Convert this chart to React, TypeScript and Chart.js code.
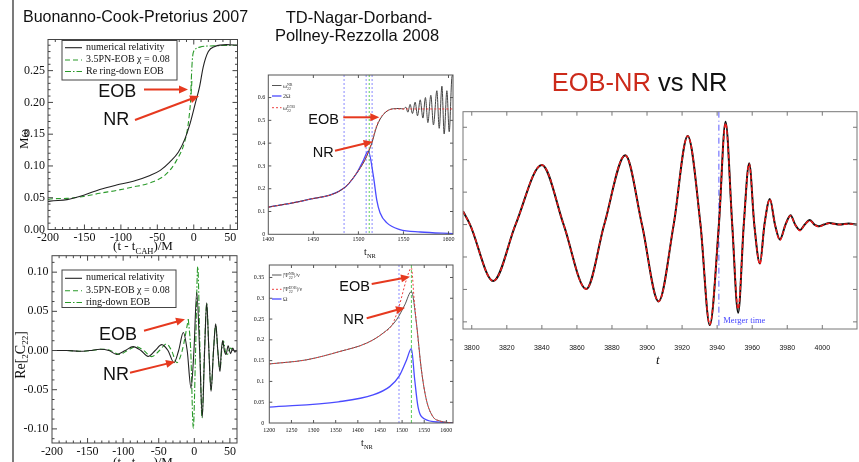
import React, { useEffect, useRef } from 'react';
import { Chart, registerables } from 'chart.js';

Chart.register(...registerables);

// ---------------- Buonanno-Cook-Pretorius 2007 : M omega ----------------
const bcpFreqNrT = [-200, -197, -174, -151, -129, -106, -83, -60, -46, -33, -21, -12, -5, 2, 8, 13, 20, 29, 45, 60];
const bcpFreqNrW = [0.044, 0.0447, 0.047, 0.054, 0.063, 0.07, 0.076, 0.085, 0.093, 0.106, 0.122, 0.143, 0.167, 0.198, 0.225, 0.256, 0.28, 0.288, 0.291, 0.29];
const bcpFreqEobT = [-200, -197, -174, -151, -129, -106, -83, -60, -38, -24, -12, -7.5, -4.2, -2.5];
const bcpFreqEobW = [0.047, 0.048, 0.049, 0.052, 0.057, 0.0615, 0.067, 0.0735, 0.087, 0.108, 0.14, 0.167, 0.204, 0.235];
const bcpFreqRdT = [-4.5, -3, -1.6, 1.7, 8.5, 27, 60];
const bcpFreqRdW = [0.2, 0.246, 0.272, 0.283, 0.287, 0.289, 0.29];

// ---------------- Buonanno-Cook-Pretorius 2007 : Re[2C22] ----------------
const bcpWaveNrT = [-200, -180, -161, -147, -132, -120, -109, -97, -86, -75, -65, -55, -45.8, -37, -28.5, -22, -15.5, -10, -4.6, -0.5, 3.4, 7.5, 11.2, 14.5, 17.4, 20.5, 23.5, 27, 30.1, 33, 36.1, 38, 39.9, 42.2, 44.6, 47.5, 51, 54, 57, 60];
const bcpWaveNrV = [0, 0, -0.001, 0, 0.0017, 0, -0.005, 0, 0.005, 0, -0.0075, 0, 0.0075, 0, -0.0156, 0, 0.023, 0, -0.048, 0, 0.074, 0, -0.085, 0, 0.061, 0, -0.052, 0, 0.034, 0, -0.027, 0, 0.0126, 0, -0.005, 0.006, -0.004, 0.003, -0.002, 0];
const bcpWaveEobT = [-200, -180, -160, -145, -130, -118, -105, -94, -82, -71, -60, -49, -39, -32, -24.5, -17, -8.4];
const bcpWaveEobV = [0, 0, -0.001, 0, 0.0017, 0, -0.005, 0, 0.005, 0, -0.0078, 0, 0.0085, 0, -0.0155, 0, 0.04];
const bcpWaveRdT = [-8.4, -5, -1.4, 1.8, 4.8, 8, 10.8, 14.3, 17.4, 20.5, 23.5, 27, 30.1, 33, 36.1, 38.5, 41, 43.5, 46, 48.5, 51, 55, 60];
const bcpWaveRdV = [0.04, 0, -0.099, 0, 0.107, 0, -0.086, 0, 0.06, 0, -0.05, 0, 0.033, 0, -0.025, 0, 0.012, 0, -0.006, 0, 0.003, 0, 0];

// ---------------- Damour-Nagar-... 2008 : frequency ----------------
const ndFreqNrT = [1400, 1442.7, 1484.1, 1498.2, 1507.4, 1514.9, 1520.4, 1527.8, 1538.9, 1546, 1550, 1552.6, 1554.9, 1557.4, 1560, 1563, 1565.6, 1568.6, 1571.6, 1574.4, 1577.1, 1580.4, 1583.3, 1587.1, 1589.7, 1592.7, 1595.2, 1598.2, 1600.8, 1603.8, 1605];
const ndFreqNrW = [0.119, 0.151, 0.203, 0.269, 0.327, 0.4, 0.474, 0.526, 0.551, 0.552, 0.55, 0.558, 0.536, 0.57, 0.53, 0.58, 0.52, 0.59, 0.51, 0.6, 0.49, 0.61, 0.48, 0.63, 0.465, 0.65, 0.44, 0.63, 0.45, 0.69, 0.7];
const ndFreqEobT = [1400, 1442.7, 1484.1, 1498.2, 1507.4, 1514.9, 1520.4, 1527.8, 1538.9, 1560, 1605];
const ndFreqEobW = [0.119, 0.151, 0.203, 0.27, 0.33, 0.405, 0.478, 0.528, 0.55, 0.55, 0.55];
const ndOmegaT = [1400, 1442.7, 1484.1, 1498.2, 1505, 1511, 1516.7, 1520.4, 1524, 1531.6, 1546, 1568.6, 1605];
const ndOmegaW = [0.119, 0.151, 0.203, 0.269, 0.32, 0.365, 0.254, 0.15, 0.095, 0.05, 0.021, 0.01, 0.003];
const ndFreqMarks = [1484.1, 1508.6, 1515.2];
const ndFreqMarkGreen = [1512];

// ---------------- Damour-Nagar-... 2008 : amplitude ----------------
const ndAmpNrT = [1200, 1284.3, 1359.4, 1419.6, 1457, 1487.3, 1506, 1521, 1532.4, 1543.6, 1555, 1569.8, 1585, 1615];
const ndAmpNrA = [0.142, 0.152, 0.172, 0.192, 0.216, 0.248, 0.284, 0.316, 0.24, 0.128, 0.055, 0.015, 0.005, 0];
const ndAmpEobT = [1200, 1284.3, 1359.4, 1419.6, 1457, 1478, 1493, 1509.8, 1521, 1527, 1532.4, 1543.6, 1555, 1569.8, 1585, 1615];
const ndAmpEobA = [0.142, 0.152, 0.172, 0.192, 0.216, 0.237, 0.28, 0.345, 0.373, 0.3, 0.24, 0.128, 0.055, 0.015, 0.005, 0];
const ndAmpOmT = [1200, 1356, 1434.5, 1472, 1493, 1509.8, 1521, 1528.5, 1536, 1551, 1585, 1615];
const ndAmpOmW = [0.038, 0.051, 0.0675, 0.0875, 0.112, 0.151, 0.179, 0.104, 0.039, 0.0095, 0.002, 0];
const ndAmpMarkBlue = [1493];
const ndAmpMarkGreen = [1521];

// ---------------- EOB-NR vs NR waveform ----------------
const cmpT = [3795, 3799, 3812.3, 3825, 3840, 3852.4, 3865.3, 3875.6, 3887.6, 3897.1, 3906.6, 3915.2, 3923.2, 3930.5, 3935.8, 3941, 3944.8, 3948.6, 3952, 3955.2, 3958.3, 3961.2, 3964.4, 3967, 3970.1, 3973, 3975.8, 3979, 3981.9, 3984.5, 3987.2, 3990, 3992.9, 3995.5, 3998, 4001, 4004, 4010, 4015, 4020];
const cmpNr = [0.41, 0, -1.74, 0, 1.84, 0, -1.99, 0, 2.14, 0, -2.37, 0, 2.73, 0, -3.1, 0, 3.17, 0, -2.72, 0, 1.89, 0, -1.2, 0, 0.79, 0, -0.46, 0, 0.29, 0, -0.17, 0, 0.14, 0, -0.05, 0, 0.05, 0, 0.03, 0];
const cmpEob = [0.41, 0, -1.74, 0, 1.84, 0, -1.99, 0, 2.14, 0, -2.37, 0, 2.73, 0, -3.08, 0, 3.12, 0, -2.6, 0, 1.87, 0, -1.22, 0, 0.78, 0, -0.48, 0, 0.27, 0, -0.19, 0, 0.12, 0, -0.07, 0, 0.04, 0, 0.02, 0];
const cmpMerger = [3941];
const cmpXTicks = { min: 3795, max: 4019.8, step: 20 };

// ---------------- plugins ----------------
const frameTicks = {
  id: 'frameTicks',
  afterDraw(chart: any, _a: any, o: any) {
    if (!o || !o.color) return;
    const { ctx, chartArea: a, scales } = chart;
    ctx.save();
    ctx.strokeStyle = o.color;
    ctx.lineWidth = o.lineWidth || 1;
    ctx.setLineDash([]);
    ctx.strokeRect(a.left, a.top, a.right - a.left, a.bottom - a.top);
    const seg = (x1: number, y1: number, x2: number, y2: number) => {
      ctx.beginPath(); ctx.moveTo(x1, y1); ctx.lineTo(x2, y2); ctx.stroke();
    };
    const doAxis = (scale: any, horiz: boolean, minorN: number) => {
      const vals: number[] = scale.ticks.map((t: any) => t.value);
      const marks: [number, number][] = vals.map((v) => [v, o.major]);
      if (minorN > 1 && vals.length > 1) {
        const step = vals[1] - vals[0];
        for (let i = -1; i <= vals.length; i++) {
          const v0 = vals[0] + i * step;
          for (let k = 1; k < minorN; k++) marks.push([v0 + (k * step) / minorN, o.minor]);
        }
      }
      marks.forEach(([v, len]) => {
        const p = scale.getPixelForValue(v);
        if (horiz) {
          if (p < a.left + 0.5 || p > a.right - 0.5) return;
          seg(p, a.bottom, p, a.bottom - len);
          seg(p, a.top, p, a.top + len);
        } else {
          if (p < a.top + 0.5 || p > a.bottom - 0.5) return;
          seg(a.left, p, a.left + len, p);
          seg(a.right, p, a.right - len, p);
        }
      });
    };
    doAxis(scales.x, true, o.xMinor || 0);
    doAxis(scales.y, false, o.yMinor || 0);
    ctx.restore();
  },
};

const vLines = {
  id: 'vLines',
  beforeDatasetsDraw(chart: any, _a: any, o: any) {
    if (!o || !o.lines) return;
    const { ctx, chartArea: a, scales } = chart;
    ctx.save();
    o.lines.forEach((l: any) => {
      const x = scales.x.getPixelForValue(l.x);
      ctx.strokeStyle = l.color;
      ctx.lineWidth = l.width || 1;
      ctx.setLineDash(l.dash || []);
      ctx.beginPath(); ctx.moveTo(x, a.top); ctx.lineTo(x, a.bottom); ctx.stroke();
    });
    ctx.restore();
  },
};

type Box = { x: number; y: number; w: number; h: number };
type Area = { l: number; t: number; r: number; b: number };

const pts = (xs: number[], ys: number[]) => xs.map((x, i) => ({ x, y: ys[i] }));

function series(xs: number[], ys: number[], color: string, width: number, dash: number[] = []) {
  return {
    data: pts(xs, ys),
    borderColor: color,
    borderWidth: width,
    borderDash: dash,
    pointRadius: 0,
    fill: false,
    cubicInterpolationMode: 'monotone',
  };
}

function makeConfig(box: Box, area: Area, datasets: any[], sx: any, sy: any, frame: any, lines: any[] = []) {
  return {
    type: 'line',
    data: { datasets },
    plugins: [frameTicks, vLines],
    options: {
      responsive: false,
      animation: false,
      devicePixelRatio: 1,
      events: [],
      layout: { padding: { left: 0, top: area.t - box.y, right: box.x + box.w - area.r, bottom: 0 } },
      plugins: { legend: { display: false }, tooltip: { enabled: false }, frameTicks: frame, vLines: { lines } },
      scales: {
        x: {
          type: 'linear', min: sx.min, max: sx.max,
          afterFit: (s: any) => { s.height = box.y + box.h - area.b; },
          grid: { display: false, drawTicks: false }, border: { display: false },
          ticks: { stepSize: sx.step, includeBounds: false, autoSkip: false, maxRotation: 0, padding: sx.pad, color: '#111', font: sx.font, callback: sx.fmt },
        },
        y: {
          type: 'linear', min: sy.min, max: sy.max,
          afterFit: (s: any) => { s.width = area.l - box.x; },
          grid: { display: false, drawTicks: false }, border: { display: false },
          ticks: { stepSize: sy.step, includeBounds: false, autoSkip: false, padding: sy.pad, color: '#111', font: sy.font, callback: sy.fmt },
        },
      },
    },
  };
}

const serif = 'Liberation Serif';
const sans = 'Liberation Sans';
const num = (d: number) => (v: number) => v.toFixed(d);
const plain = (v: number) => String(parseFloat(Number(v).toFixed(4)));

const boxA: Box = { x: 0, y: 25, w: 250, h: 220 };
const areaA: Area = { l: 48, t: 39.5, r: 237.5, b: 229.5 };
const boxB: Box = { x: 0, y: 245, w: 250, h: 217 };
const areaB: Area = { l: 52, t: 255, r: 237, b: 443 };
const boxC: Box = { x: 245, y: 60, w: 220, h: 190 };
const areaC: Area = { l: 268.3, t: 75, r: 453, b: 234.3 };
const boxD: Box = { x: 245, y: 255, w: 220, h: 185 };
const areaD: Area = { l: 269.3, t: 265, r: 453, b: 423 };
const boxE: Box = { x: 443, y: 100, w: 416, h: 260 };
const areaE: Area = { l: 463, t: 111.7, r: 857, b: 329 };

const GREEN = '#2a9a2a';
const BLUE = '#4b4bff';

function cfgA() {
  return makeConfig(boxA, areaA, [
    series(bcpFreqNrT, bcpFreqNrW, '#222', 1.1),
    series(bcpFreqEobT, bcpFreqEobW, GREEN, 1.1, [5, 3]),
    series(bcpFreqRdT, bcpFreqRdW, GREEN, 1.1, [6, 2, 1.5, 2]),
  ],
  { min: -200, max: 60, step: 50, pad: 1, font: { family: serif, size: 12 }, fmt: plain },
  { min: 0, max: 0.299, step: 0.05, pad: 3, font: { family: serif, size: 12 }, fmt: num(2) },
  { color: '#444', major: 5, minor: 2.5, xMinor: 5, yMinor: 5 });
}

function cfgB() {
  return makeConfig(boxB, areaB, [
    series(bcpWaveNrT, bcpWaveNrV, '#222', 1.1),
    series(bcpWaveEobT, bcpWaveEobV, GREEN, 1.1, [5, 3]),
    series(bcpWaveRdT, bcpWaveRdV, GREEN, 1.1, [6, 2, 1.5, 2]),
  ],
  { min: -200, max: 60, step: 50, pad: 2, font: { family: serif, size: 12 }, fmt: plain },
  { min: -0.118, max: 0.121, step: 0.05, pad: 3.5, font: { family: serif, size: 12 }, fmt: num(2) },
  { color: '#444', major: 5, minor: 2.5, xMinor: 5, yMinor: 4 });
}

function cfgC() {
  return makeConfig(boxC, areaC, [
    series(ndFreqEobT, ndFreqEobW, '#ee4040', 1, [2, 2]),
    series(ndFreqNrT, ndFreqNrW, '#444', 1),
    series(ndOmegaT, ndOmegaW, BLUE, 1.3),
  ],
  { min: 1400, max: 1605, step: 50, pad: 2, font: { family: serif, size: 6 }, fmt: plain },
  { min: 0, max: 0.699, step: 0.1, pad: 3, font: { family: serif, size: 6 }, fmt: plain },
  { color: '#555', major: 3, minor: 0 },
  [
    ...ndFreqMarks.map((x) => ({ x, color: '#8a8aff', dash: [2, 2], width: 1 })),
    ...ndFreqMarkGreen.map((x) => ({ x, color: '#5acb5a', dash: [2, 2], width: 1 })),
  ]);
}

function cfgD() {
  return makeConfig(boxD, areaD, [
    series(ndAmpEobT, ndAmpEobA, '#ee4040', 1, [2, 2]),
    series(ndAmpNrT, ndAmpNrA, '#555', 1),
    series(ndAmpOmT, ndAmpOmW, BLUE, 1.3),
  ],
  { min: 1200, max: 1615, step: 50, pad: 4, font: { family: serif, size: 6 }, fmt: plain },
  { min: 0, max: 0.38, step: 0.05, pad: 5, font: { family: serif, size: 6 }, fmt: plain },
  { color: '#555', major: 3, minor: 0 },
  [
    ...ndAmpMarkBlue.map((x) => ({ x, color: '#8a8aff', dash: [2, 2], width: 1 })),
    ...ndAmpMarkGreen.map((x) => ({ x, color: '#5acb5a', dash: [3, 2], width: 1 })),
  ]);
}

function cfgE() {
  return makeConfig(boxE, areaE, [
    series(cmpT, cmpEob, '#ee1a1a', 1.5, [4, 2]),
    series(cmpT, cmpNr, '#111', 2),
  ],
  { min: cmpXTicks.min, max: cmpXTicks.max, step: cmpXTicks.step, pad: 15, font: { family: sans, size: 7 }, fmt: plain },
  { min: -3.22, max: 3.48, step: 1, pad: 0, font: { family: sans, size: 1 }, fmt: () => '' },
  { color: '#777', major: 4, minor: 0 },
  cmpMerger.map((x) => ({ x, color: '#5a5aff', dash: [6, 3, 1, 3], width: 1 })));
}

function Plot({ box, make }: { box: Box; make: () => any }) {
  const ref = useRef<HTMLCanvasElement>(null);
  useEffect(() => {
    const c = new Chart(ref.current as HTMLCanvasElement, make() as any);
    return () => c.destroy();
  }, []);
  return (
    <canvas ref={ref} width={box.w} height={box.h}
      style={{ position: 'absolute', left: box.x, top: box.y, width: box.w, height: box.h }} />
  );
}

function T({ x, y, size, children, family = sans, color = '#111', anchor = 'left', style = {} }: any) {
  const tx = anchor === 'center' ? 'translateX(-50%)' : '';
  return (
    <div style={{ position: 'absolute', left: x, top: y - 0.49 * size, fontFamily: family, fontSize: size, lineHeight: 1, color, whiteSpace: 'nowrap', transform: tx, ...style }}>
      {children}
    </div>
  );
}

function VText({ x, y, size, children, family = serif }: any) {
  return (
    <div style={{ position: 'absolute', left: x, top: y, fontFamily: family, fontSize: size, lineHeight: 1, whiteSpace: 'nowrap', transform: 'translate(-50%,-50%) rotate(-90deg)', color: '#111' }}>
      {children}
    </div>
  );
}

function Stack({ top, bottom, size }: any) {
  return (
    <span style={{ display: 'inline-flex', flexDirection: 'column', fontSize: size, lineHeight: 1, verticalAlign: 'middle' }}>
      <span>{top}</span><span>{bottom}</span>
    </span>
  );
}

const ARROW = '#e6391f';
const arrows = [
  [144, 89.5, 188, 89.5],
  [135, 120, 199, 96],
  [144, 330.7, 185, 319.3],
  [130, 372.7, 175, 361.7],
  [343.3, 117.3, 379.3, 117.3],
  [335, 150.7, 372.7, 141.7],
  [371.7, 284, 410, 276.7],
  [366.7, 318.3, 405, 307.7],
];

function Arrow({ a }: { a: number[] }) {
  const [x1, y1, x2, y2] = a;
  const dx = x2 - x1, dy = y2 - y1, L = Math.hypot(dx, dy);
  const ux = dx / L, uy = dy / L, hl = 9, hw = 4;
  const bx = x2 - ux * hl, by = y2 - uy * hl;
  return (
    <g>
      <line x1={x1} y1={y1} x2={bx + ux} y2={by + uy} stroke={ARROW} strokeWidth={2} />
      <polygon points={`${x2},${y2} ${bx - uy * hw},${by + ux * hw} ${bx + uy * hw},${by - ux * hw}`} fill={ARROW} />
    </g>
  );
}

export default function App() {
  useEffect(() => {
    document.body.style.margin = '0';
    document.body.style.background = '#fff';
  }, []);
  return (
    <div style={{ position: 'fixed', left: 0, top: 0, width: 859, height: 462, background: '#fff', overflow: 'hidden' }}>
      <Plot box={boxA} make={cfgA} />
      <Plot box={boxB} make={cfgB} />
      <Plot box={boxC} make={cfgC} />
      <Plot box={boxD} make={cfgD} />
      <Plot box={boxE} make={cfgE} />

      <svg width={859} height={462} style={{ position: 'absolute', left: 0, top: 0, pointerEvents: 'none' }}>
        <line x1={13} y1={0} x2={13} y2={462} stroke="#333" strokeWidth={1.3} />
        {/* legend A */}
        <rect x={62} y={40.5} width={115} height={39.5} fill="#fff" stroke="#444" strokeWidth={1} />
        <line x1={65} y1={47.7} x2={82} y2={47.7} stroke="#222" strokeWidth={1.1} />
        <line x1={65} y1={60} x2={82} y2={60} stroke={GREEN} strokeWidth={1.1} strokeDasharray="5 3" />
        <line x1={65} y1={71.5} x2={82} y2={71.5} stroke={GREEN} strokeWidth={1.1} strokeDasharray="6 2 1.5 2" />
        {/* legend B */}
        <rect x={62} y={270} width={114} height={37.5} fill="#fff" stroke="#444" strokeWidth={1} />
        <line x1={65} y1={278.3} x2={82} y2={278.3} stroke="#222" strokeWidth={1.1} />
        <line x1={65} y1={290.8} x2={82} y2={290.8} stroke={GREEN} strokeWidth={1.1} strokeDasharray="5 3" />
        <line x1={65} y1={302.5} x2={82} y2={302.5} stroke={GREEN} strokeWidth={1.1} strokeDasharray="6 2 1.5 2" />
        {/* legend C */}
        <line x1={272} y1={85.5} x2={281.5} y2={85.5} stroke="#555" strokeWidth={1} />
        <line x1={272} y1={96} x2={281.5} y2={96} stroke={BLUE} strokeWidth={1.3} />
        <line x1={272} y1={107.7} x2={281.5} y2={107.7} stroke="#ee4040" strokeWidth={1} strokeDasharray="2 2" />
        {/* legend D */}
        <line x1={272} y1={275} x2={281.5} y2={275} stroke="#555" strokeWidth={1} />
        <line x1={272} y1={289.3} x2={281.5} y2={289.3} stroke="#ee4040" strokeWidth={1} strokeDasharray="2 2" />
        <line x1={272} y1={299} x2={281.5} y2={299} stroke={BLUE} strokeWidth={1.3} />
        {arrows.map((a, i) => <Arrow key={i} a={a} />)}
      </svg>

      {/* titles */}
      <T x={23} y={16.8} size={16}>Buonanno-Cook-Pretorius 2007</T>
      <T x={359} y={16.7} size={16.5} anchor="center">TD-Nagar-Dorband-</T>
      <T x={357} y={34.7} size={16.5} anchor="center">Pollney-Rezzolla 2008</T>
      <T x={551.7} y={82.5} size={25.5}><span style={{ color: '#cc2a1a' }}>EOB-NR</span> vs NR</T>

      {/* legend texts A/B */}
      <T x={86} y={46.5} size={10} family={serif}>numerical relativity</T>
      <T x={86} y={59} size={10} family={serif}>3.5PN-EOB χ = 0.08</T>
      <T x={86} y={70.5} size={10} family={serif}>Re ring-down EOB</T>
      <T x={86} y={277.3} size={10} family={serif}>numerical relativity</T>
      <T x={86} y={289.8} size={10} family={serif}>3.5PN-EOB χ = 0.08</T>
      <T x={86} y={301.5} size={10} family={serif}>ring-down EOB</T>

      {/* legend texts C/D */}
      <T x={283} y={85.5} size={6} family={serif} color="#333">ω<Stack top="NR" bottom="22" size={4} /></T>
      <T x={283} y={96} size={6} family={serif} color="#333">2Ω</T>
      <T x={283} y={107.7} size={6} family={serif} color="#333">ω<Stack top="EOB" bottom="22" size={4} /></T>
      <T x={283} y={275} size={6} family={serif} color="#333">|Ψ<Stack top="NR" bottom="22" size={4} />|/ν</T>
      <T x={283} y={289.3} size={6} family={serif} color="#333">|Ψ<Stack top="EOB" bottom="22" size={4} />|/ν</T>
      <T x={283} y={299} size={6} family={serif} color="#333">Ω</T>

      {/* axis titles */}
      <VText x={22.5} y={139} size={13}>Mω</VText>
      <VText x={21.7} y={355} size={14}>Re[<sub style={{ fontSize: 9 }}>2</sub>C<sub style={{ fontSize: 9 }}>22</sub>]</VText>
      <T x={143} y={245} size={13} family={serif} anchor="center">(t - t<sub style={{ fontSize: 8.5 }}>CAH</sub>)/M</T>
      <T x={143} y={461.5} size={13} family={serif} anchor="center">(t - t<sub style={{ fontSize: 8.5 }}>CAH</sub>)/M</T>
      <T x={370} y={252} size={10} family={serif} anchor="center">t<sub style={{ fontSize: 6.5 }}>NR</sub></T>
      <T x={367} y={443} size={10} family={serif} anchor="center">t<sub style={{ fontSize: 6.5 }}>NR</sub></T>
      <T x={657.7} y={359.3} size={13} family={serif} anchor="center" style={{ fontStyle: 'italic' }}>t</T>
      <T x={723.3} y={320} size={8.5} family={serif} color="#4646ff">Merger time</T>

      {/* annotations */}
      <T x={98.3} y={90.8} size={18}>EOB</T>
      <T x={103.3} y={118.8} size={18}>NR</T>
      <T x={99} y={334} size={18}>EOB</T>
      <T x={103} y={374} size={18}>NR</T>
      <T x={308.3} y={118.7} size={14.5}>EOB</T>
      <T x={312.7} y={152} size={14.5}>NR</T>
      <T x={339.3} y={285.8} size={14.5}>EOB</T>
      <T x={343.3} y={319} size={14.5}>NR</T>
    </div>
  );
}
